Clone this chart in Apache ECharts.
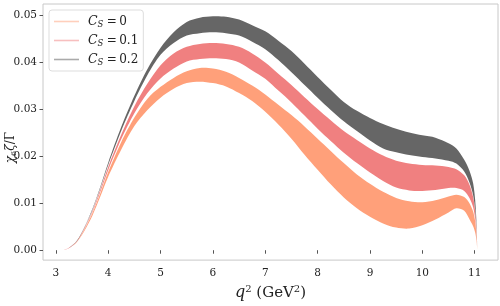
<!DOCTYPE html>
<html>
<head>
<meta charset="utf-8">
<script src="https://cdn.jsdelivr.net/npm/echarts@6/dist/echarts.min.js"></script>
<style>html,body{margin:0;padding:0;background:#fff;}#c{width:500px;height:306px;}</style>
</head>
<body>
<div id="c"></div>
<script>
// q^2 grid (GeV^2)
const q2 = [3.15, 3.25, 3.4, 3.55, 3.7, 3.85, 4.0, 4.25, 4.5, 4.75, 5.0, 5.25, 5.5, 5.75, 6.0, 6.25, 6.5, 6.75, 7.0, 7.25, 7.5, 7.75, 8.0, 8.25, 8.5, 8.75, 9.0, 9.25, 9.5, 9.75, 10.0, 10.25, 10.5, 10.65, 10.8, 10.9, 10.97, 11.01, 11.035, 11.05];

// C_S = 0.2 band (gray)
const cs02Upper = [0, .0005, .0020, .0050, .0088, .0135, .0186, .0262, .0328, .0385, .0430, .0463, .0485, .0494, .0497, .0496, .0490, .0478, .0465, .0445, .0423, .0396, .0368, .0341, .0315, .0296, .0281, .0268, .0258, .0250, .0244, .0239, .0227, .0216, .0192, .0169, .0142, .0105, .0055, 0];
const cs02Lower = [0, .0005, .0019, .0049, .0086, .0132, .0181, .0254, .0317, .0372, .0415, .0440, .0456, .0461, .0463, .0461, .0456, .0443, .0427, .0404, .0378, .0351, .0324, .0298, .0274, .0253, .0233, .0216, .0208, .0202, .0198, .0195, .0190, .0184, .0167, .0144, .0117, .0085, .0045, 0];
// C_S = 0.1 band (pink)
const cs01Upper = [0, .0005, .0019, .0048, .0084, .0129, .0177, .0246, .0306, .0354, .0393, .0418, .0432, .0438, .0440, .0438, .0432, .0418, .0399, .0375, .0351, .0325, .0300, .0276, .0253, .0234, .0216, .0201, .0190, .0184, .0181, .0180, .0177, .0172, .0159, .0139, .0113, .0081, .0043, 0];
const cs01Lower = [0, .0004, .0018, .0046, .0081, .0124, .0170, .0236, .0291, .0334, .0365, .0386, .0401, .0406, .0408, .0406, .0399, .0382, .0364, .0339, .0314, .0286, .0258, .0232, .0207, .0185, .0165, .0147, .0133, .0127, .0126, .0128, .0132, .0132, .0126, .0111, .0091, .0066, .0035, 0];
// C_S = 0 band (orange)
const cs0Upper = [0, .0004, .0018, .0045, .0079, .0121, .0166, .0230, .0282, .0322, .0347, .0366, .0380, .0387, .0386, .0379, .0366, .0350, .0331, .0309, .0287, .0263, .0237, .0211, .0185, .0161, .0141, .0124, .0111, .0104, .0102, .0106, .0114, .0118, .0113, .0100, .0082, .0060, .0031, 0];
const cs0Lower = [0, .0004, .0017, .0042, .0074, .0114, .0156, .0214, .0264, .0298, .0324, .0343, .0355, .0358, .0355, .0348, .0334, .0317, .0294, .0267, .0237, .0203, .0171, .0140, .0112, .0089, .0071, .0057, .0048, .0046, .0053, .0065, .0080, .0089, .0084, .0066, .0051, .0037, .0020, 0];

const legendNames = ['C_S=0', 'C_S=0.1', 'C_S=0.2'];
const legendValues = ['0', '0.1', '0.2'];
const xTicks = [3, 4, 5, 6, 7, 8, 9, 10, 11];
const yTicks = [0, 0.01, 0.02, 0.03, 0.04, 0.05];

const bandColors = ['#FFA07A', '#F08080', '#666666'];
const legendColors = ['#FFCFBC', '#F7BFBF', '#AAAAAA'];

const bands = [
  {name: legendNames[0], up: cs0Upper, lo: cs0Lower},
  {name: legendNames[1], up: cs01Upper, lo: cs01Lower},
  {name: legendNames[2], up: cs02Upper, lo: cs02Lower}
];

const series = bands.map((b, i) => ({
  type: 'custom', name: b.name, z: 2 + i,
  itemStyle: {color: legendColors[i]},
  data: q2.map((x, k) => [x, b.lo[k], b.up[k]]),
  encode: {x: 0, y: [1, 2]},
  renderItem: (params, api) => {
    if (params.dataIndex !== 0) return null;
    const top = q2.map((x, k) => api.coord([x, b.up[k]]));
    const bot = q2.map((x, k) => api.coord([x, b.lo[k]])).reverse();
    return {
      type: 'polygon',
      shape: {points: top.concat(bot), smooth: 0.3},
      style: {fill: bandColors[i], stroke: null},
      silent: true
    };
  }
}));

const serif = 'DejaVu Serif';
const chart = echarts.init(document.getElementById('c'), null, {renderer: 'canvas'});
chart.setOption({
  animation: false,
  backgroundColor: '#fff',
  grid: {left: 43, right: 2, top: 4, bottom: 38, show: true, borderColor: '#c8c8c8', borderWidth: 1, containLabel: false},
  legend: {
    orient: 'vertical', left: 49, top: 10,
    data: legendNames.map((n, i) => ({name: n, itemStyle: {color: legendColors[i]}})),
    icon: 'rect', itemWidth: 25, itemHeight: 1.6, itemGap: 4,
    padding: [4, 5, 4, 5],
    borderColor: '#dddddd', borderWidth: 1, borderRadius: 3,
    backgroundColor: 'rgba(255,255,255,0.8)',
    formatter: (n) => '{c|C}{s|S}{n|\u2009=\u2009' + legendValues[legendNames.indexOf(n)] + '}',
    textStyle: {
      fontFamily: serif, color: '#222', lineHeight: 15, padding: [0, 0, 0, 4],
      rich: {
        c: {fontFamily: serif, fontStyle: 'italic', fontSize: 12.5, color: '#222'},
        s: {fontFamily: serif, fontStyle: 'italic', fontSize: 8.5, color: '#222', verticalAlign: 'bottom', padding: [6, 1, 0, 0]},
        n: {fontFamily: serif, fontSize: 12, color: '#222'}
      }
    }
  },
  xAxis: {
    type: 'value', min: 2.755, max: 11.445,
    axisLine: {show: false},
    splitLine: {show: false},
    axisTick: {show: true, customValues: xTicks, length: 3.5, lineStyle: {color: '#555'}},
    axisLabel: {customValues: xTicks, fontFamily: serif, fontSize: 10.5, color: '#222', margin: 8},
    name: '{q|q}{sup|2}{t| (GeV}{sup|2}{t|)}',
    nameLocation: 'middle', nameGap: 22,
    nameTextStyle: {
      rich: {
        q: {fontFamily: serif, fontStyle: 'italic', fontSize: 16, color: '#222'},
        t: {fontFamily: serif, fontSize: 15, color: '#222'},
        sup: {fontFamily: serif, fontSize: 10, color: '#222', verticalAlign: 'top', padding: [0, 0, 8, 0]}
      }
    }
  },
  yAxis: {
    type: 'value', min: -0.0021, max: 0.0523,
    axisLine: {show: false},
    splitLine: {show: false},
    axisTick: {show: true, customValues: yTicks, length: 3.5, lineStyle: {color: '#555'}},
    axisLabel: {customValues: yTicks, fontFamily: serif, fontSize: 10.5, color: '#222', margin: 6,
      formatter: (v) => v.toFixed(2)}
  },
  graphic: [{
    type: 'text', left: 5, top: 132, rotation: Math.PI / 2, origin: [0, 0],
    style: {
      text: '{a|χ}{b|6}{a|ζ}{c|/Γ}',
      rich: {
        a: {fontFamily: serif, fontStyle: 'italic', fontSize: 12, fill: '#222'},
        b: {fontFamily: serif, fontSize: 8, fill: '#222', verticalAlign: 'bottom', padding: [5, 0, 0, 0]},
        c: {fontFamily: serif, fontSize: 12, fill: '#222'}
      }
    }
  }],
  series: series
});
</script>
</body>
</html>
